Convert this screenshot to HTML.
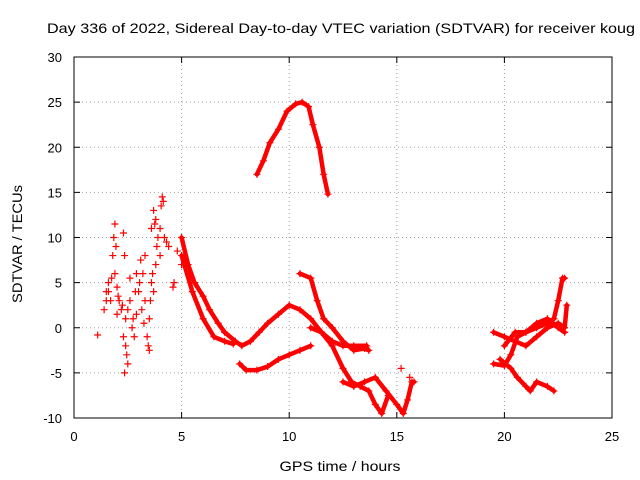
<!DOCTYPE html>
<html><head><meta charset="utf-8"><style>
body{margin:0;background:#fff}
svg{display:block;font-family:"Liberation Sans",sans-serif}
</style></head><body>
<svg id="chart" width="640" height="480">
<text x="341" y="33" font-size="14" text-anchor="middle" textLength="588" lengthAdjust="spacingAndGlyphs">Day 336 of 2022, Sidereal Day-to-day VTEC variation (SDTVAR) for receiver koug</text>
<g id="grid"></g><g id="ticks"></g><g id="marks"></g>
<rect x="74" y="57" width="538" height="361" fill="none" stroke="#000"/>
<text x="340" y="471" font-size="14" text-anchor="middle" textLength="121" lengthAdjust="spacingAndGlyphs">GPS time / hours</text>
<text transform="translate(22,244) rotate(-90)" font-size="14" text-anchor="middle" textLength="118" lengthAdjust="spacingAndGlyphs">SDTVAR / TECUs</text>
</svg>
<script>
const xTicks=[0,5,10,15,20,25];
const yTicks=[-10,-5,0,5,10,15,20,25,30];
const scatterPts=[[1.1,-0.8],[1.4,2],[1.5,4],[1.6,5],[1.7,3],[1.8,8],[1.85,10],[1.9,11.5],[2.0,4.5],[2.1,3],[2.2,2],[2.3,10.5],[2.35,8],[2.4,1],[2.3,-1],[2.35,-5],[2.45,-3],[2.5,2],[2.6,5.5],[2.7,0],[2.8,-1],[2.9,1.5],[3.0,4],[3.1,7.5],[3.2,6],[3.3,3],[3.4,-1],[3.5,-2.5],[3.6,5],[3.6,11],[3.7,13],[3.8,12],[3.9,10],[4.0,8],[4.1,14.5],[4.2,10],[4.4,9],[4.6,4.5],[4.8,8.5],[5.0,7],[1.5,3],[1.9,6],[2.0,1.5],[2.6,3],[2.9,6],[3.3,8],[3.5,1],[3.7,4],[3.8,7],[4.0,11],[15.2,-4.5],[15.6,-5.5],[1.6,4],[1.75,5.5],[2.05,3.5],[2.25,2.5],[2.4,-2],[2.5,-4],[2.75,1],[3.05,5],[3.15,2],[3.45,-2],[3.55,3],[3.65,6],[3.75,11.5],[3.85,9],[4.05,13.5],[4.15,14],[4.3,9.5],[4.65,5],[2.85,4],[3.25,0.5],[1.95,9]];
const trackA=[[8.5,17],[8.8,18.5],[9.1,20.5],[9.5,22],[9.9,24],[10.3,24.8],[10.6,25],[10.9,24.5],[11.1,22.5],[11.4,20],[11.6,17],[11.8,14.8]];
const trackB=[[5.0,10],[5.3,7],[5.6,5],[6.0,3.5],[6.3,2],[6.7,0.5],[7.0,-0.5],[7.5,-1.5],[7.8,-2],[8.2,-1.5],[8.6,-0.5],[9.0,0.5],[9.5,1.5],[10.0,2.5],[10.5,2],[11.0,1],[11.5,-0.5],[12.0,-2],[12.5,-4.5],[12.9,-6],[13.3,-6.5],[13.7,-7],[14.0,-8.5],[14.3,-9.5],[14.6,-7.5]];
const trackC=[[5.0,8],[5.5,4],[6.0,1],[6.5,-1],[7.0,-1.5],[7.4,-1.8]];
const trackC2=[[7.7,-4],[8.0,-4.7],[8.5,-4.7],[9,-4.3],[9.5,-3.5],[10,-3],[10.5,-2.5],[11,-2]];
const trackD=[[10.5,6],[11,5.5],[11.3,3],[11.6,1],[12,0],[12.5,-1.5],[13,-2.5],[13.5,-2.3],[13.7,-2.5]];
const trackD2=[[11.0,0],[11.5,-0.5],[12,-1.5],[12.5,-2],[13,-2],[13.6,-2]];
const trackE=[[12.5,-6],[13,-6.5],[13.5,-6],[14,-5.5],[14.5,-7],[15,-8.5],[15.3,-9.5],[15.5,-8],[15.7,-6],[15.8,-6]];
const trackF=[[19.5,-4],[20,-4.2],[20.3,-3],[20.6,-1],[21,-0.5],[21.5,0],[22,0.5],[22.3,1],[22.5,3],[22.7,5.5],[22.8,5.5]];
const trackG=[[19.5,-0.5],[20,-1],[20.5,-1.5],[21,-2],[21.5,-1],[22,0],[22.5,0.5],[22.8,0],[22.9,2.5]];
const trackH=[[19.8,-3.5],[20.3,-4.5],[20.6,-5.5],[21,-6.5],[21.2,-7],[21.5,-6],[22,-6.5],[22.3,-7]];
const trackI=[[20,-2],[20.5,-0.5],[21,-0.5],[21.5,0.5],[22,1],[22.5,0],[22.8,-0.5]];
const tracks=[trackA,trackB,trackC,trackC2,trackD,trackD2,trackE,trackF,trackG,trackH,trackI];
const NS="http://www.w3.org/2000/svg";
const X=v=>74+v*(538/25), Y=v=>418-(v+10)*(361/40);
const grid=document.getElementById('grid'),ticks=document.getElementById('ticks'),marks=document.getElementById('marks');
function mk(t,a,p){const e=document.createElementNS(NS,t);for(const k in a)e.setAttribute(k,a[k]);p.appendChild(e);return e;}
xTicks.forEach(v=>{
 if(v>0&&v<25){const g=mk('line',{x1:X(v),x2:X(v),y1:57,y2:418,stroke:'#a0a0a0','stroke-dasharray':'1,3'},grid);
 
 }
 const t=mk('text',{x:X(v),y:441,'font-size':13,'text-anchor':'middle'},ticks);t.textContent=v;
 
 
 mk('line',{x1:X(v),x2:X(v),y1:418,y2:412,stroke:'#000'},ticks);mk('line',{x1:X(v),x2:X(v),y1:57,y2:63,stroke:'#000'},ticks);
});
yTicks.forEach(v=>{
 if(v>-10&&v<30){const g=mk('line',{x1:74,x2:612,y1:Y(v),y2:Y(v),stroke:'#a0a0a0','stroke-dasharray':'1,3'},grid);
 
 }
 const t=mk('text',{x:62,y:Y(v)+5,'font-size':13,'text-anchor':'end'},ticks);t.textContent=v;
 
 
 mk('line',{x1:74,x2:80,y1:Y(v),y2:Y(v),stroke:'#000'},ticks);mk('line',{x1:612,x2:606,y1:Y(v),y2:Y(v),stroke:'#000'},ticks);
});
function plus(p){const x=X(p[0]),y=Y(p[1]);
 const e=mk('path',{d:`M${x-3.5},${y}h7M${x},${y-3.5}v7`,stroke:'#f00','stroke-width':1.2},marks);
 
 }
tracks.forEach(tr=>{
 const l=mk('polyline',{points:tr.map(p=>X(p[0])+','+Y(p[1])).join(' '),fill:'none',stroke:'#f00','stroke-width':4.5,'stroke-linejoin':'round','stroke-linecap':'round'},marks);
 
 
 tr.forEach(plus);
});
scatterPts.forEach(plus);
</script>
</body></html>
